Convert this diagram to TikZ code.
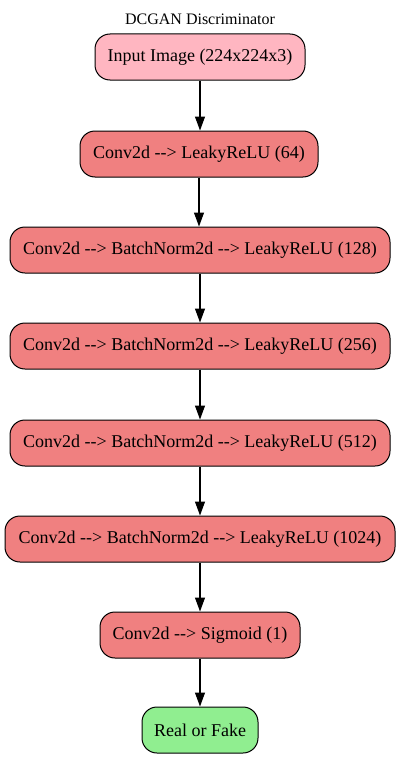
\documentclass[tikz,border=0pt]{standalone}
\usepackage{fontspec}
\setmainfont[Ligatures=TeXOff]{Liberation Serif}
\usetikzlibrary{arrows.meta}
\definecolor{lpink}{RGB}{255,182,193}
\definecolor{lcoral}{RGB}{240,128,128}
\definecolor{lgreen}{RGB}{144,238,144}
\begin{document}
\begin{tikzpicture}[x=1pt,y=-1pt,
  box/.style={draw=black,line width=1pt,rounded corners=15pt,minimum height=46pt,inner xsep=8pt,font=\fontsize{18pt}{20pt}\selectfont},
  conn/.style={-{Triangle[length=14pt,width=10pt]},line width=1.1pt}]
\useasboundingbox (0,0) rectangle (400,760);
\node[font=\fontsize{16pt}{18pt}\selectfont] (title) at (200,19) {DCGAN Discriminator};
\node[box,fill=lpink,minimum width=210pt] (n1) at (200,57) {Input Image (224x224x3)};
\node[box,fill=lcoral,minimum width=238pt] (n2) at (199,154) {Conv2d -{}-> LeakyReLU (64)};
\node[box,fill=lcoral,minimum width=380pt] (n3) at (200,250) {Conv2d -{}-> BatchNorm2d -{}-> LeakyReLU (128)};
\node[box,fill=lcoral,minimum width=380pt] (n4) at (200,346) {Conv2d -{}-> BatchNorm2d -{}-> LeakyReLU (256)};
\node[box,fill=lcoral,minimum width=380pt] (n5) at (200,443) {Conv2d -{}-> BatchNorm2d -{}-> LeakyReLU (512)};
\node[box,fill=lcoral,minimum width=390pt] (n6) at (200,539) {Conv2d -{}-> BatchNorm2d -{}-> LeakyReLU (1024)};
\node[box,fill=lcoral,minimum width=200pt] (n7) at (200,635) {Conv2d -{}-> Sigmoid (1)};
\node[box,fill=lgreen,minimum width=116pt] (n8) at (200,730) {Real or Fake};
\foreach \a/\b in {n1/n2,n2/n3,n3/n4,n4/n5,n5/n6,n6/n7,n7/n8}
  \draw[conn] (\a.south) -- (\a.south |- \b.north);
\end{tikzpicture}
\end{document}
